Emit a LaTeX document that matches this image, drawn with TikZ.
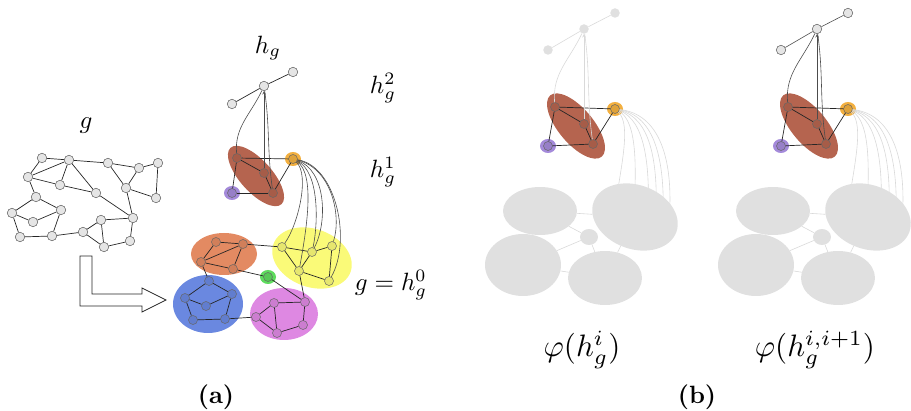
\documentclass[tikz,border=0pt]{standalone}
\usepackage{tikz}
\usetikzlibrary{shapes.geometric, arrows, positioning, calc}

\definecolor{clbrown}{RGB}{181,100,79}
\definecolor{clorange}{RGB}{243,176,64}
\definecolor{clpurple}{RGB}{164,138,218}
\definecolor{clsalmon}{RGB}{227,138,98}
\definecolor{clblue}{RGB}{106,136,224}
\definecolor{clpink}{RGB}{222,136,226}
\definecolor{clyellow}{RGB}{250,250,120}
\definecolor{clgreen}{RGB}{94,219,94}
\definecolor{shade}{RGB}{224,224,224}

\tikzset{
  gnode/.style={circle, draw=black!65, fill=gray!20, inner sep=0pt, minimum size=9.5pt, line width=0.5pt},
  cnode/.style={circle, draw=black!60, fill=black, fill opacity=0.08, inner sep=0pt, minimum size=9pt, line width=0.5pt},
  fadenode/.style={circle, fill=shade, inner sep=0pt, minimum size=9.5pt},
  link/.style={black!85, line width=0.7pt},
  uplink/.style={black!70, line width=0.6pt},
  fadelink/.style={gray!30, line width=0.6pt},
  blob/.style={ellipse, draw=none, inner sep=0pt},
  halo/.style={ellipse, draw=none, inner sep=0pt, minimum width=16pt, minimum height=14pt},
  lbl/.style={scale=2.5},
  biglbl/.style={scale=3.1}
}

\begin{document}
\begin{tikzpicture}[x=1pt, y=-1pt]
    \useasboundingbox (0,0) rectangle (911,411);

    % input graph g
    \foreach \n/\x/\y in {1/42/158, 2/69/160, 3/108/163, 4/139/168, 5/158/163, 6/28/177, 7/60/185,
        8/96/193, 9/126/188, 10/156/198, 11/36/197, 12/12/213, 13/61/210, 14/33/222, 15/133/218,
        16/101/220, 17/20/237, 18/52/236, 19/83/232, 20/104/247, 21/130/241}
        \node[gnode] (g\n) at (\x,\y) {};
    \foreach \a/\b in {1/2, 1/6, 2/6, 2/7, 2/8, 2/3, 6/7, 7/8, 8/15, 3/4, 3/9, 4/9, 4/5, 5/10, 9/10,
        9/15, 6/11, 11/12, 11/13, 12/14, 14/13, 12/17, 13/18, 17/18, 18/19, 19/16, 19/20, 16/15,
        16/20, 20/21, 15/21}
        \draw[link] (g\a) -- (g\b);
    \node[lbl] (glabel) at (86,126) {$g$};

    % block arrow
    \draw[black!85, line width=0.7pt, fill=white] (80,256) -- (92,256) -- (92,294) -- (142,294)
        -- (142,288) -- (166,300) -- (142,312) -- (142,306) -- (80,306) -- cycle;

    % (a) level 0 clusters
    \node[blob, fill=clsalmon, minimum width=66pt, minimum height=42pt] (csal) at (224,254) {};
    \node[blob, fill=clblue, minimum width=70pt, minimum height=58pt] (cblu) at (208,304) {};
    \node[blob, fill=clpink, minimum width=68pt, minimum height=52pt] (cpin) at (284,314) {};
    \node[blob, fill=clyellow, minimum width=82pt, minimum height=58pt, rotate=-20] (cyel) at (312,258) {};
    \node[halo, fill=clgreen] (cgre) at (268,277) {};

    \foreach \n/\x/\y in {s1/216/242, s2/243/244, s3/201/262, s4/233/269,
        b1/209/281, b2/232/294, b3/185/298, b4/206/306, b5/193/320, b6/225/319,
        m1/274/303, m2/305/302, m3/256/317, m4/303/325, m5/277/333,
        y1/282/247, y2/312/252, y3/332/246, y4/299/271, y5/329/281, gr/268/277}
        \node[cnode] (\n) at (\x,\y) {};
    \foreach \a/\b in {s1/s2, s1/s3, s3/s2, s3/s4, s2/s4,
        b1/b2, b1/b3, b3/b4, b4/b2, b3/b5, b5/b6, b6/b2,
        m1/m2, m1/m3, m3/m5, m5/m4, m4/m2, m1/m5,
        y1/y2, y2/y3, y1/y4, y2/y4, y4/y5, y3/y5,
        s2/y1, s4/gr, gr/m2, y4/m2, b6/m3, s3/b1}
        \draw[link] (\a) -- (\b);

    % (a) level 1
    \node[blob, fill=clbrown, minimum width=76pt, minimum height=32pt, rotate=-48] (cbro) at (256,176) {};
    \node[halo, fill=clpurple] (cpur) at (232,193) {};
    \node[halo, fill=clorange] (cora) at (293,159) {};
    \foreach \n/\x/\y in {a1/237/158, a2/264/173, a3/273/193, ap/232/193, ao/293/159}
        \node[cnode] (\n) at (\x,\y) {};
    \foreach \a/\b in {a1/a2, a2/a3, a1/ao, a1/ap, ap/a3, a3/ao}
        \draw[link] (\a) -- (\b);

    % (a) level 2
    \node[gnode] (t0) at (264,86) {};
    \node[gnode] (t1) at (232,104) {};
    \node[gnode] (t2) at (293,72) {};
    \draw[link] (t1) -- (t0);
    \draw[link] (t0) -- (t2);

    % links between levels
    \draw[uplink] (a1) to[out=95, in=-115] (t0);
    \draw[uplink, ->, >=stealth] (a2) -- (t0);
    \draw[uplink] (a3) to[out=98, in=-82] (t0);
    \draw[uplink] (ao) .. controls (310,175) and (298,225) .. (y1);
    \draw[uplink] (ao) .. controls (316,174) and (306,232) .. (y4);
    \draw[uplink] (ao) .. controls (320,172) and (318,225) .. (y2);
    \draw[uplink] (ao) .. controls (326,170) and (328,222) .. (y2);
    \draw[uplink] (ao) .. controls (331,168) and (342,215) .. (y3);
    \draw[uplink] (ao) .. controls (336,166) and (352,240) .. (y5);

    % (b) embeddings
    \foreach \p/\sx/\tn/\tl in {l/0/fadenode/fadelink, r/233/gnode/uplink}{
        \begin{scope}[xshift=\sx]
            \node[\tn] (\p t0) at (584,29) {};
            \node[\tn] (\p t1) at (548,50) {};
            \node[\tn] (\p t2) at (615,13) {};
            \draw[\tl] (\p t1) -- (\p t0);
            \draw[\tl] (\p t0) -- (\p t2);

            \node[blob, fill=clbrown, minimum width=80pt, minimum height=35pt, rotate=-50] (\p e) at (576,126) {};
            \node[halo, fill=clpurple] (\p hp) at (548,146) {};
            \node[halo, fill=clorange] (\p ho) at (615,109) {};
            \foreach \n/\x/\y in {a1/555/107, a2/584/124, a3/593/144, ap/548/146, ao/615/109}
                \node[cnode] (\p\n) at (\x,\y) {};
            \foreach \a/\b in {a1/a2, a2/a3, a1/ao, a1/ap, ap/a3, a3/ao}
                \draw[link] (\p\a) -- (\p\b);

            \draw[\tl] (\p a1) to[out=95, in=-115] (\p t0);
            \draw[\tl, ->, >=stealth] (\p a2) -- (\p t0);
            \draw[\tl] (\p a3) to[out=98, in=-82] (\p t0);

            \coordinate (\p h1) at (614,215);
            \coordinate (\p h2) at (634,215);
            \coordinate (\p h3) at (648,215);
            \coordinate (\p h4) at (656,215);
            \coordinate (\p h5) at (663,218);
            \coordinate (\p h6) at (669,222);
            \draw[fadelink] (\p ao) .. controls (632,125) and (620,170) .. (\p h1);
            \draw[fadelink] (\p ao) .. controls (638,122) and (636,170) .. (\p h2);
            \draw[fadelink] (\p ao) .. controls (645,120) and (650,165) .. (\p h3);
            \draw[fadelink] (\p ao) .. controls (650,118) and (658,160) .. (\p h4);
            \draw[fadelink] (\p ao) .. controls (655,116) and (665,160) .. (\p h5);
            \draw[fadelink] (\p ao) .. controls (660,114) and (674,160) .. (\p h6);

            \node[blob, fill=shade, minimum width=74pt, minimum height=48pt] (\p g1) at (540,211) {};
            \node[blob, fill=shade, minimum width=88pt, minimum height=64pt, rotate=-20] (\p g2) at (635,217) {};
            \node[blob, fill=shade, minimum width=76pt, minimum height=62pt] (\p g3) at (523,265) {};
            \node[blob, fill=shade, minimum width=74pt, minimum height=54pt] (\p g4) at (605,278) {};
            \node[blob, fill=shade, minimum width=18pt, minimum height=16pt] (\p g5) at (589,237) {};
            \foreach \a/\b in {g1/g2, g1/g5, g1/g3, g5/g4, g3/g4, g2/g4, g3/g5}
                \draw[fadelink] (\p\a) -- (\p\b);
        \end{scope}
    }

    % labels
    \node[lbl] (hg) at (268,48) {$h_g$};
    \node[lbl] (htwo) at (383,88) {$h_g^2$};
    \node[lbl] (hone) at (383,172) {$h_g^1$};
    \node[lbl] (hzero) at (391,285) {$g = h_g^0$};
    \node[biglbl] (phia) at (582,350) {$\varphi(h_g^i)$};
    \node[biglbl] (phib) at (815,350) {$\varphi(h_g^{i,i+1})$};
    \node[lbl] (capa) at (216,397) {\textbf{(a)}};
    \node[lbl] (capb) at (697,397) {\textbf{(b)}};
\end{tikzpicture}
\end{document}
